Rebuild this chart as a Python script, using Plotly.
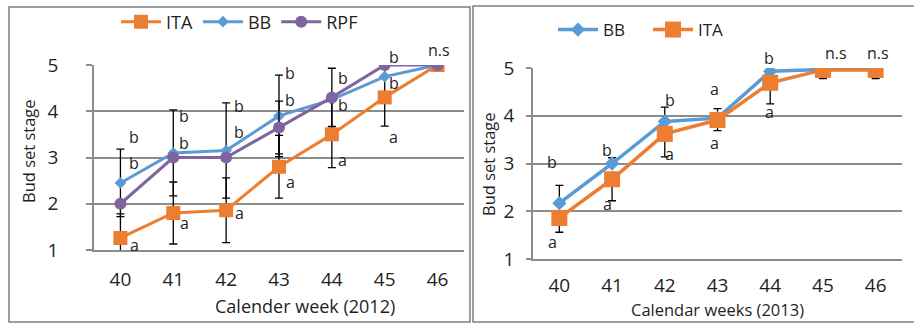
import plotly.graph_objects as go

# ---- data -------------------------------------------------------------
weeks = [40, 41, 42, 43, 44, 45, 46]

# 2012 (left panel)
ita_2012 = [1.26, 1.80, 1.86, 2.80, 3.50, 4.30, 5.00]
bb_2012 = [2.45, 3.10, 3.15, 3.90, 4.25, 4.75, 5.00]
rpf_2012 = [2.00, 3.00, 3.00, 3.65, 4.30, 5.00, 5.00]
ita_2012_err = [0.52, 0.67, 0.70, 0.68, 0.72, 0.62, 0.0]
bb_2012_err = [0.73, 0.93, 1.03, 0.88, 0.0, 0.0, 0.0]
rpf_2012_err = [0.0, 0.0, 0.0, 0.57, 0.63, 0.0, 0.0]

# 2013 (right panel)
bb_2013 = [2.17, 3.00, 3.88, 3.95, 4.93, 4.97, 4.97]
ita_2013 = [1.86, 2.67, 3.62, 3.91, 4.69, 4.96, 4.96]
bb_2013_err_up = [0.37, 0.12, 0.30, 0.20, 0.05, 0.0, 0.0]
ita_2013_err_down = [0.30, 0.45, 0.48, 0.22, 0.44, 0.18, 0.18]

# significance letters: (week, y position, letter)
letters_2012 = [
    (40, 3.44, "b"), (40, 2.88, "b"), (40, 1.11, "a"),
    (41, 3.90, "b"), (41, 3.31, "b"), (41, 1.58, "a"),
    (42, 4.11, "b"), (42, 3.55, "b"), (42, 1.80, "a"),
    (43, 4.83, "b"), (43, 4.24, "b"), (43, 2.47, "a"),
    (44, 4.72, "b"), (44, 4.14, "b"), (44, 2.95, "a"),
    (45, 5.17, "b"), (45, 4.61, "b"), (45, 3.44, "a"),
    (46, 5.32, "n.s"),
]
letters_2013 = [
    (40, 3.03, "b"), (40, 1.36, "a"),
    (41, 3.28, "b"), (41, 2.15, "a"),
    (42, 4.33, "b"), (42, 3.20, "a"),
    (43, 4.56, "a"), (43, 3.43, "a"),
    (44, 5.21, "b"), (44, 4.08, "a"),
    (45, 5.31, "n.s"), (46, 5.31, "n.s"),
]
y_ticks = [1, 2, 3, 4, 5]

# ---- styling ----------------------------------------------------------
ORANGE = "#ED7D31"
BLUE = "#5B9BD5"
PURPLE = "#8064A2"
GRID = "#8C8C8C"
TEXT = "#1F1F1F"
FONT = "Open Sans"
W, H = 914, 323
Y_MIN, Y_MAX = 1, 5

# plot areas in pixels (left, right, top, bottom)
LEFT_BOX = (94, 464, 65, 250)
RIGHT_BOX = (533, 902, 68, 259)

# horizontal offsets (px) of letters from their week
shift_2012 = {40: 14, 41: 11, 42: 13, 43: 11, 44: 11, 45: 9, 46: 1}
shift_2013 = {40: -7, 41: -5, 42: 5, 43: -3, 44: -1, 45: 13, 46: 2}


def px_x(p):
    return p / W


def px_y(p):
    return 1 - p / H


fig = go.Figure()


def err(arr, up=True, down=True):
    zeros = [0.0] * len(arr)
    return dict(
        type="data", symmetric=False,
        array=arr if up else zeros,
        arrayminus=arr if down else zeros,
        color="black", thickness=1.3, width=4,
    )


# left panel traces
fig.add_trace(go.Scatter(
    x=weeks, y=ita_2012, name="ITA", mode="lines+markers",
    line=dict(color=ORANGE, width=3),
    marker=dict(symbol="square", size=14, color=ORANGE),
    error_y=err(ita_2012_err), xaxis="x", yaxis="y", legend="legend"))
fig.add_trace(go.Scatter(
    x=weeks, y=bb_2012, name="BB", mode="lines+markers",
    line=dict(color=BLUE, width=3),
    marker=dict(symbol="diamond", size=9, color=BLUE),
    error_y=err(bb_2012_err), xaxis="x", yaxis="y", legend="legend"))
fig.add_trace(go.Scatter(
    x=weeks, y=rpf_2012, name="RPF", mode="lines+markers",
    line=dict(color=PURPLE, width=3),
    marker=dict(symbol="circle", size=12, color=PURPLE),
    error_y=err(rpf_2012_err), xaxis="x", yaxis="y", legend="legend"))

# right panel traces
fig.add_trace(go.Scatter(
    x=weeks, y=bb_2013, name="BB", mode="lines+markers",
    line=dict(color=BLUE, width=3.5),
    marker=dict(symbol="diamond", size=11, color=BLUE),
    error_y=err(bb_2013_err_up, up=True, down=False),
    xaxis="x2", yaxis="y2", legend="legend2"))
fig.add_trace(go.Scatter(
    x=weeks, y=ita_2013, name="ITA", mode="lines+markers",
    line=dict(color=ORANGE, width=3.5),
    marker=dict(symbol="square", size=16, color=ORANGE),
    error_y=err(ita_2013_err_down, up=False, down=True),
    xaxis="x2", yaxis="y2", legend="legend2"))


def letter_annotations(letters, shifts, xref, yref, box):
    # letters above the top of the range are pinned to it and lifted in px
    px_per_unit = (box[3] - box[2]) / (Y_MAX - Y_MIN)
    out = []
    for wk, yv, txt in letters:
        y_anchor = min(yv, Y_MAX)
        out.append(dict(x=wk, y=y_anchor, xref=xref, yref=yref, text=txt,
                        showarrow=False, xanchor="center", yanchor="middle",
                        xshift=shifts[wk],
                        yshift=(yv - y_anchor) * px_per_unit,
                        font=dict(family=FONT, size=16, color=TEXT)))
    return out


annotations = []
annotations += letter_annotations(letters_2012, shift_2012, "x", "y", LEFT_BOX)
annotations += letter_annotations(letters_2013, shift_2013, "x2", "y2", RIGHT_BOX)

# axis titles
title_common = dict(xref="paper", yref="paper", showarrow=False,
                    xanchor="center", yanchor="middle")
annotations += [
    dict(x=px_x(305), y=px_y(306), text="Calender week (2012)",
         font=dict(family=FONT, size=18, color=TEXT), **title_common),
    dict(x=px_x(28), y=px_y(151), text="Bud set stage", textangle=-90,
         font=dict(family=FONT, size=16.5, color=TEXT), **title_common),
    dict(x=px_x(717), y=px_y(309), text="Calendar weeks (2013)",
         font=dict(family=FONT, size=16.5, color=TEXT), **title_common),
    dict(x=px_x(488), y=px_y(164), text="Bud set stage", textangle=-90,
         font=dict(family=FONT, size=16.5, color=TEXT), **title_common),
]

# panel frames
shapes = [
    dict(type="rect", xref="paper", yref="paper",
         x0=px_x(9), x1=px_x(470), y0=px_y(322), y1=px_y(7),
         line=dict(color="#7F7F7F", width=1.5)),
    dict(type="rect", xref="paper", yref="paper",
         x0=px_x(473), x1=px_x(920), y0=px_y(322), y1=px_y(6),
         line=dict(color="#7F7F7F", width=1.5)),
]

tick_font = dict(family=FONT, size=19, color=TEXT)
xcommon = dict(range=[39.5, 46.5], tickmode="array", tickvals=weeks,
               showgrid=False, zeroline=False, showline=True,
               linecolor=GRID, linewidth=1.5, ticks="", tickfont=tick_font,
               automargin=False)
ycommon = dict(range=[Y_MIN, Y_MAX], tickmode="array", tickvals=y_ticks,
               showgrid=True, gridcolor=GRID, gridwidth=1.5,
               zeroline=False, showline=True, linecolor=GRID, linewidth=1.5,
               ticks="outside", tickcolor=GRID, tickwidth=1.5,
               tickfont=tick_font, automargin=False)

fig.update_layout(
    width=W, height=H,
    margin=dict(l=0, r=0, t=0, b=0, autoexpand=False),
    paper_bgcolor="white", plot_bgcolor="white",
    font=dict(family=FONT, color=TEXT),
    xaxis=dict(domain=[px_x(LEFT_BOX[0]), px_x(LEFT_BOX[1])], anchor="y",
               ticklabelstandoff=11, **xcommon),
    yaxis=dict(domain=[px_y(LEFT_BOX[3]), px_y(LEFT_BOX[2])], anchor="x",
               ticklen=6, ticklabelstandoff=24, **ycommon),
    xaxis2=dict(domain=[px_x(RIGHT_BOX[0]), px_x(RIGHT_BOX[1])], anchor="y2",
                ticklabelstandoff=8, **xcommon),
    yaxis2=dict(domain=[px_y(RIGHT_BOX[3]), px_y(RIGHT_BOX[2])], anchor="x2",
                ticklen=5, ticklabelstandoff=8, **ycommon),
    legend=dict(orientation="h", xref="container", yref="container",
                x=px_x(116), y=px_y(22), xanchor="left", yanchor="middle",
                itemwidth=40,
                font=dict(family=FONT, size=18, color=TEXT),
                bgcolor="rgba(0,0,0,0)"),
    legend2=dict(orientation="h", xref="container", yref="container",
                 x=px_x(553), y=px_y(30), xanchor="left", yanchor="middle",
                 itemwidth=40, entrywidth=40,
                 font=dict(family=FONT, size=17, color=TEXT),
                 bgcolor="rgba(0,0,0,0)"),
    annotations=annotations,
    shapes=shapes,
    showlegend=True,
)

fig.write_html("out.html")
